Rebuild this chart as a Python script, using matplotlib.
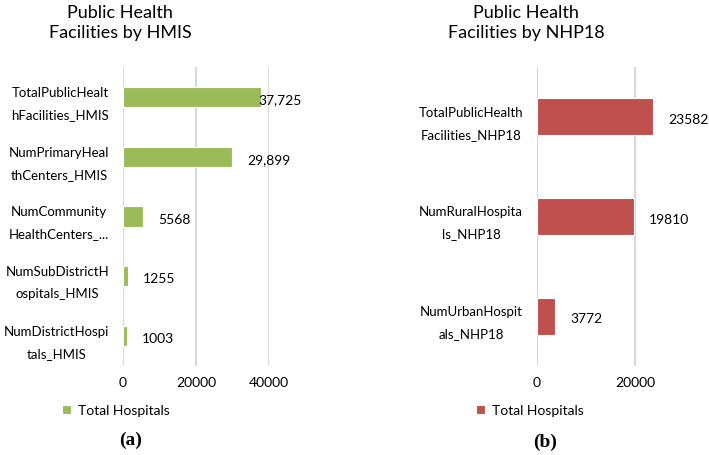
import matplotlib
matplotlib.use("Agg")
import matplotlib.pyplot as plt

plt.rcParams['font.family'] = ['Lato', 'DejaVu Sans']

# ---- data ----
hmis_categories = ["TotalPublicHealthFacilities_HMIS", "NumPrimaryHealthCenters_HMIS",
                   "NumCommunityHealthCenters_HMIS", "NumSubDistrictHospitals_HMIS",
                   "NumDistrictHospitals_HMIS"]
hmis_ticklabels = ["TotalPublicHealt\nhFacilities_HMIS", "NumPrimaryHeal\nthCenters_HMIS",
                   "NumCommunity\nHealthCenters_...", "NumSubDistrictH\nospitals_HMIS",
                   "NumDistrictHospi\ntals_HMIS"]
hmis_values = [37725, 29899, 5568, 1255, 1003]
hmis_value_labels = ["37,725", "29,899", "5568", "1255", "1003"]

nhp_categories = ["TotalPublicHealthFacilities_NHP18", "NumRuralHospitals_NHP18",
                  "NumUrbanHospitals_NHP18"]
nhp_ticklabels = ["TotalPublicHealth\nFacilities_NHP18", "NumRuralHospita\nls_NHP18",
                  "NumUrbanHospit\nals_NHP18"]
nhp_values = [23582, 19810, 3772]
nhp_value_labels = ["23582", "19810", "3772"]

series_name = "Total Hospitals"
hmis_xticks = [0, 20000, 40000]
nhp_xticks = [0, 20000]

GREEN = "#9BBB59"
RED = "#C0504D"
GRID = "#D9D9D9"
TXT = "#000000"

W, H = 709, 456
fig = plt.figure(figsize=(W / 100, H / 100), dpi=100)


def style_axis(ax, xticks, ypad):
    for s in ax.spines.values():
        s.set_visible(False)
    ax.set_xticks(xticks)
    ax.set_xticklabels([str(t) for t in xticks])
    ax.tick_params(axis='x', length=0, pad=7, labelsize=10, colors=TXT)
    ax.tick_params(axis='y', length=0, pad=ypad, labelsize=9.5, colors=TXT)
    ax.grid(axis='x', color=GRID, linewidth=1.6)
    ax.set_axisbelow(True)


# ---- left panel ----
axL = fig.add_axes([123 / W, 1 - 367 / H, 146 / W, 299 / H])
yL = list(range(len(hmis_values)))
axL.barh(yL, hmis_values, height=0.34, color=GREEN, edgecolor="white",
         linewidth=0.8, label=series_name)
axL.set_xlim(0, 40000)
axL.set_ylim(len(hmis_values) - 0.5, -0.5)
axL.set_yticks(yL)
axL.set_yticklabels(hmis_ticklabels, multialignment='center', linespacing=2.0)
style_axis(axL, hmis_xticks, 10)
for i, (v, lab) in enumerate(zip(hmis_values, hmis_value_labels)):
    off = -2 if i == 0 else 11
    axL.annotate(lab, (v, i), xytext=(off, -1.5), textcoords='offset points',
                 ha='left', va='center', fontsize=10, color=TXT, annotation_clip=False)
axL.legend(loc='center', bbox_to_anchor=(116 / W, 1 - 411 / H),
           bbox_transform=fig.transFigure, frameon=False, fontsize=10,
           handlelength=0.6, handleheight=0.6, handletextpad=0.5)

# ---- right panel ----
axR = fig.add_axes([537 / W, 1 - 367 / H, 147 / W, 299 / H])
yR = list(range(len(nhp_values)))
axR.barh(yR, nhp_values, height=0.37, color=RED, edgecolor="white",
         linewidth=0.8, label=series_name)
axR.set_xlim(0, 30000)
axR.set_ylim(len(nhp_values) - 0.5, -0.5)
axR.set_yticks(yR)
axR.set_yticklabels(nhp_ticklabels, multialignment='center', linespacing=2.0)
style_axis(axR, nhp_xticks, 10)
for i, (v, lab) in enumerate(zip(nhp_values, nhp_value_labels)):
    axR.annotate(lab, (v, i), xytext=(11, -1.5), textcoords='offset points',
                 ha='left', va='center', fontsize=10, color=TXT, annotation_clip=False)
axR.legend(loc='center', bbox_to_anchor=(530 / W, 1 - 411 / H),
           bbox_transform=fig.transFigure, frameon=False, fontsize=10,
           handlelength=0.6, handleheight=0.6, handletextpad=0.5)

# ---- titles ----
fig.text(120 / W, 1 - 23 / H, "Public Health\nFacilities by HMIS", ha='center', va='center',
         fontsize=13, linespacing=1.25, color=TXT)
fig.text(526 / W, 1 - 23 / H, "Public Health\nFacilities by NHP18", ha='center', va='center',
         fontsize=13, linespacing=1.25, color=TXT)

# ---- panel letters ----
fig.text(131 / W, 1 - 440 / H, "(a)", ha='center', va='center', fontsize=14,
         fontweight='bold', family=['Liberation Serif', 'DejaVu Serif'])
fig.text(545 / W, 1 - 442 / H, "(b)", ha='center', va='center', fontsize=14,
         fontweight='bold', family=['Liberation Serif', 'DejaVu Serif'])

fig.savefig("out.png", dpi=100, facecolor="white")
